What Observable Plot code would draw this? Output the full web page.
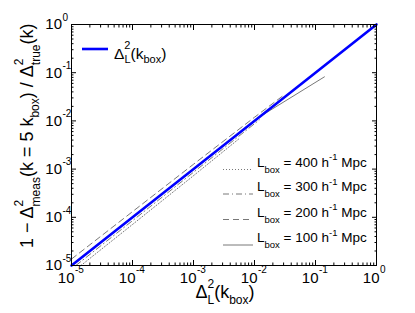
<!DOCTYPE html>
<html><head><meta charset="utf-8">
<script src="https://cdn.jsdelivr.net/npm/d3@7"></script>
<script src="https://cdn.jsdelivr.net/npm/@observablehq/plot@0.6"></script>
<style>
html,body{margin:0;padding:0;background:#fff}
svg{font-family:"Liberation Sans",Arial,Helvetica,sans-serif}
</style>
</head><body><div id="chart"></div>
<script>
// ---- ticks ----
const majorTicks = [1e-5, 1e-4, 1e-3, 1e-2, 1e-1, 1];
const tickExponents = ["-5", "-4", "-3", "-2", "-1", "0"];
const minorMultipliers = [2, 3, 4, 5, 6, 7, 8, 9];
const minorTicks = majorTicks.slice(0, -1).flatMap(t => minorMultipliers.map(m => m * t));

// ---- series ----
const linearX = [1e-5, 1];
const linearY = [1e-5, 1];
const box400X = [1.43e-5, 1e-4, 1e-3, 5.5e-3];
const box400Y = [1e-5, 7.1e-5, 7.3e-4, 4.2e-3];
const box300X = [1.18e-5, 1e-4, 1e-3, 1.2e-2];
const box300Y = [1e-5, 8.5e-5, 8.6e-4, 1.05e-2];
const box200X = [1e-5, 1e-4, 1e-3, 1e-2, 3e-2];
const box200Y = [1.36e-5, 1.31e-4, 1.26e-3, 1.19e-2, 3.4e-2];
const box100X = [1e-5, 1e-3, 1.35e-2, 0.14];
const box100Y = [1e-5, 1e-3, 1.32e-2, 0.082];

const boxSizes = ["400", "300", "200", "100"];
const boxDash = ["1,2", "6,3,1,3", "6,4", null];

const pts = (xs, ys) => xs.map((x, i) => ({x, y: ys[i]}));
const grey = "#555";

const W = 415, H = 313, mL = 71, mR = 39, mT = 24, mB = 48;

const axisOpts = {tickFormat: () => "", label: null, stroke: "black"};

const svg = Plot.plot({
  width: W, height: H,
  marginLeft: mL, marginRight: mR, marginTop: mT, marginBottom: mB,
  style: {fontFamily: "Liberation Sans, Arial, sans-serif", background: "white", overflow: "visible"},
  x: {type: "log", domain: [1e-5, 1]},
  y: {type: "log", domain: [1e-5, 1]},
  marks: [
    Plot.line(pts(box400X, box400Y), {x: "x", y: "y", stroke: grey, strokeWidth: 0.8, strokeDasharray: boxDash[0]}),
    Plot.line(pts(box300X, box300Y), {x: "x", y: "y", stroke: grey, strokeWidth: 0.8, strokeDasharray: boxDash[1]}),
    Plot.line(pts(box200X, box200Y), {x: "x", y: "y", stroke: grey, strokeWidth: 0.8, strokeDasharray: boxDash[2]}),
    Plot.line(pts(box100X, box100Y), {x: "x", y: "y", stroke: grey, strokeWidth: 0.8}),
    Plot.line(pts(linearX, linearY), {x: "x", y: "y", stroke: "#0000ff", strokeWidth: 2.6}),
    Plot.frame({stroke: "black", strokeWidth: 1}),
    Plot.axisX({...axisOpts, anchor: "bottom", ticks: majorTicks, tickSize: -5}),
    Plot.axisX({...axisOpts, anchor: "bottom", ticks: minorTicks, tickSize: -2.5}),
    Plot.axisX({...axisOpts, anchor: "top", ticks: majorTicks, tickSize: -5}),
    Plot.axisX({...axisOpts, anchor: "top", ticks: minorTicks, tickSize: -2.5}),
    Plot.axisY({...axisOpts, anchor: "left", ticks: majorTicks, tickSize: -5}),
    Plot.axisY({...axisOpts, anchor: "left", ticks: minorTicks, tickSize: -2.5}),
    Plot.axisY({...axisOpts, anchor: "right", ticks: majorTicks, tickSize: -5}),
    Plot.axisY({...axisOpts, anchor: "right", ticks: minorTicks, tickSize: -2.5}),
    // x tick labels
    Plot.text(majorTicks, {x: d => d, frameAnchor: "bottom", lineAnchor: "middle", text: () => "10", textAnchor: "end", dx: 3, dy: 13, fontSize: 15, fill: "black"}),
    Plot.text(majorTicks, {x: d => d, frameAnchor: "bottom", lineAnchor: "middle", text: (d, i) => tickExponents[i], textAnchor: "start", dx: 3.5, dy: 4, fontSize: 10, fill: "black"}),
    // y tick labels
    Plot.text(majorTicks, {y: d => d, frameAnchor: "left", lineAnchor: "middle", text: () => "10", textAnchor: "end", dx: -9.5, dy: 0, fontSize: 15, fill: "black"}),
    Plot.text(majorTicks, {y: d => d, frameAnchor: "left", lineAnchor: "middle", text: (d, i) => tickExponents[i], textAnchor: "start", dx: -9, dy: -7, fontSize: 10, fill: "black"})
  ]
});

const s = d3.select(svg);

function rich(g, parts, attrs) {
  const t = g.append("text");
  for (const [k, v] of Object.entries(attrs)) t.attr(k, v);
  for (const p of parts) {
    const ts = t.append("tspan").text(p.t);
    if (p.size) ts.attr("font-size", p.size);
    if (p.dy) ts.attr("dy", p.dy);
    if (p.dx) ts.attr("dx", p.dx);
  }
  return t;
}

// y axis label
rich(s, [
  {t: "1 − Δ"},
  {t: "2", size: 12, dy: -10},
  {t: "meas", size: 12, dx: -6.7, dy: 17},
  {t: "(k = 5 k", dy: -7},
  {t: "box", size: 12, dy: 6},
  {t: ") / Δ", dy: -6},
  {t: "2", size: 12, dy: -10},
  {t: "true", size: 12, dx: -6.7, dy: 17},
  {t: "(k)", dy: -7}
], {transform: "translate(33,248) rotate(-90)", "text-anchor": "start", "font-size": 18, fill: "black"});

// x axis label
rich(s, [
  {t: "Δ"},
  {t: "2", size: 12, dy: -10},
  {t: "L", size: 12, dx: -6.7, dy: 16},
  {t: "(k", dy: -6},
  {t: "box", size: 12, dy: 6},
  {t: ")", dy: -6}
], {x: 225, y: 298, "text-anchor": "middle", "font-size": 18, fill: "black"});

// top-left legend
s.append("line").attr("x1", 82).attr("x2", 108).attr("y1", 49).attr("y2", 49)
  .attr("stroke", "#0000ff").attr("stroke-width", 2.6);
rich(s, [
  {t: "Δ"},
  {t: "2", size: 11, dy: -9.5},
  {t: "L", size: 11, dx: -6.1, dy: 14},
  {t: "(k", dy: -4.5},
  {t: "box", size: 11, dy: 4.5},
  {t: ")", dy: -4.5}
], {x: 114, y: 58.5, "text-anchor": "start", "font-size": 15.5, fill: "black"});

// bottom-right legend
const baselines = [166.5, 191, 216.5, 242];
boxSizes.forEach((b, i) => {
  const ln = s.append("line").attr("x1", 223).attr("x2", 253)
    .attr("y1", baselines[i] + 3).attr("y2", baselines[i] + 3)
    .attr("stroke", grey).attr("stroke-width", 0.8);
  if (boxDash[i]) ln.attr("stroke-dasharray", boxDash[i]);
  rich(s, [
    {t: "L"},
    {t: "box", size: 9.5, dy: 6},
    {t: " = " + b + " h", dy: -6},
    {t: "-1", size: 9.5, dy: -6.5},
    {t: " Mpc", dy: 6.5}
  ], {x: 257, y: baselines[i], "text-anchor": "start", "font-size": 13.5, fill: "black"});
});

document.getElementById("chart").appendChild(svg);
</script>
</body></html>
